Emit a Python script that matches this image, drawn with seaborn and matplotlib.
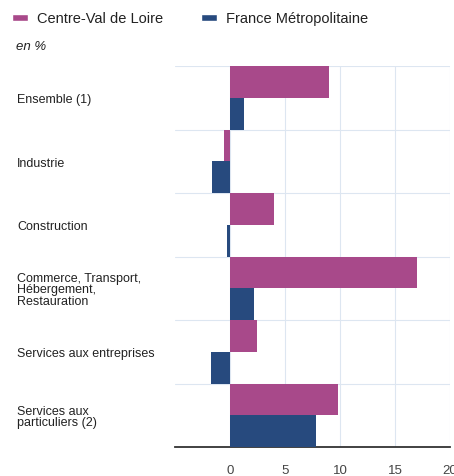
import numpy as np
import pandas as pd
import matplotlib
matplotlib.use("Agg")
import matplotlib.pyplot as plt
from matplotlib.patches import Patch
import seaborn as sns

# categories (top to bottom) and the two series, in %
categories = ["Ensemble (1)", "Industrie", "Construction",
              "Commerce, Transport,\nHébergement,\nRestauration",
              "Services aux entreprises",
              "Services aux\nparticuliers (2)"]
centre_val_de_loire = [9.0, -0.55, 4.0, 17.0, 2.45, 9.8]
france_metro = [1.25, -1.6, -0.3, 2.15, -1.75, 7.85]
series_names = ["Centre-Val de Loire", "France Métropolitaine"]
xticks = [0, 5, 10, 15, 20]

pink = "#a8498a"
blue = "#274a7e"

df = pd.DataFrame({
    "cat": categories * 2,
    "val": centre_val_de_loire + france_metro,
    "serie": [series_names[0]] * 6 + [series_names[1]] * 6,
})

sns.set_style("white")
plt.rcParams["font.family"] = ["Liberation Sans", "DejaVu Sans"]

fig = plt.figure(figsize=(4.54, 4.77), dpi=100)
ax = fig.add_axes([175 / 454, 29 / 477, 275 / 454, 381 / 477])

sns.barplot(data=df, y="cat", x="val", hue="serie", orient="h",
            palette=[pink, blue], width=1.0, gap=0, saturation=1,
            linewidth=0, edgecolor="none",
            legend=False, ax=ax, zorder=3)

ax.set_xlim(-5, 20)
ax.set_ylim(5.5, -0.5)
ax.set_xlabel("")
ax.set_ylabel("")

ax.set_xticks(xticks)
ax.set_xticklabels([str(t) for t in xticks])
ax.tick_params(axis="x", length=0, pad=12.5, labelsize=9.5, labelcolor="#444444")

ax.set_yticks(range(len(categories)))
ax.set_yticklabels(categories)
ax.tick_params(axis="y", which="major", length=0, pad=113.5, labelsize=9,
               labelcolor="#222222")
for lab in ax.get_yticklabels():
    lab.set_ha("left")
    lab.set_linespacing(0.92)

ax.set_yticks(np.arange(-0.5, 6.0, 1.0), minor=True)
ax.tick_params(axis="y", which="minor", length=0)
ax.grid(True, axis="x", which="major", color="#dde6f1", lw=0.8, zorder=0)
ax.grid(True, axis="y", which="minor", color="#dde6f1", lw=0.8, zorder=0)
ax.grid(False, axis="y", which="major")
ax.set_axisbelow(True)

for s in ["top", "right", "left"]:
    ax.spines[s].set_visible(False)
ax.spines["bottom"].set_color("#333333")
ax.spines["bottom"].set_linewidth(1.3)

handles = [Patch(facecolor=pink), Patch(facecolor=blue)]
fig.legend(handles, series_names, loc="upper left", bbox_to_anchor=(0.0, 1.0),
           ncol=2, frameon=False, fontsize=10.5, handlelength=1.1,
           handleheight=0.4, handletextpad=0.6, columnspacing=2.6,
           borderpad=0.55, borderaxespad=0.3, labelcolor="#222222")

fig.text(16 / 454, 1 - 47 / 477, "en %", style="italic", fontsize=9.5,
         va="center", ha="left", color="#222222")

plt.savefig("out.png", dpi=100)
